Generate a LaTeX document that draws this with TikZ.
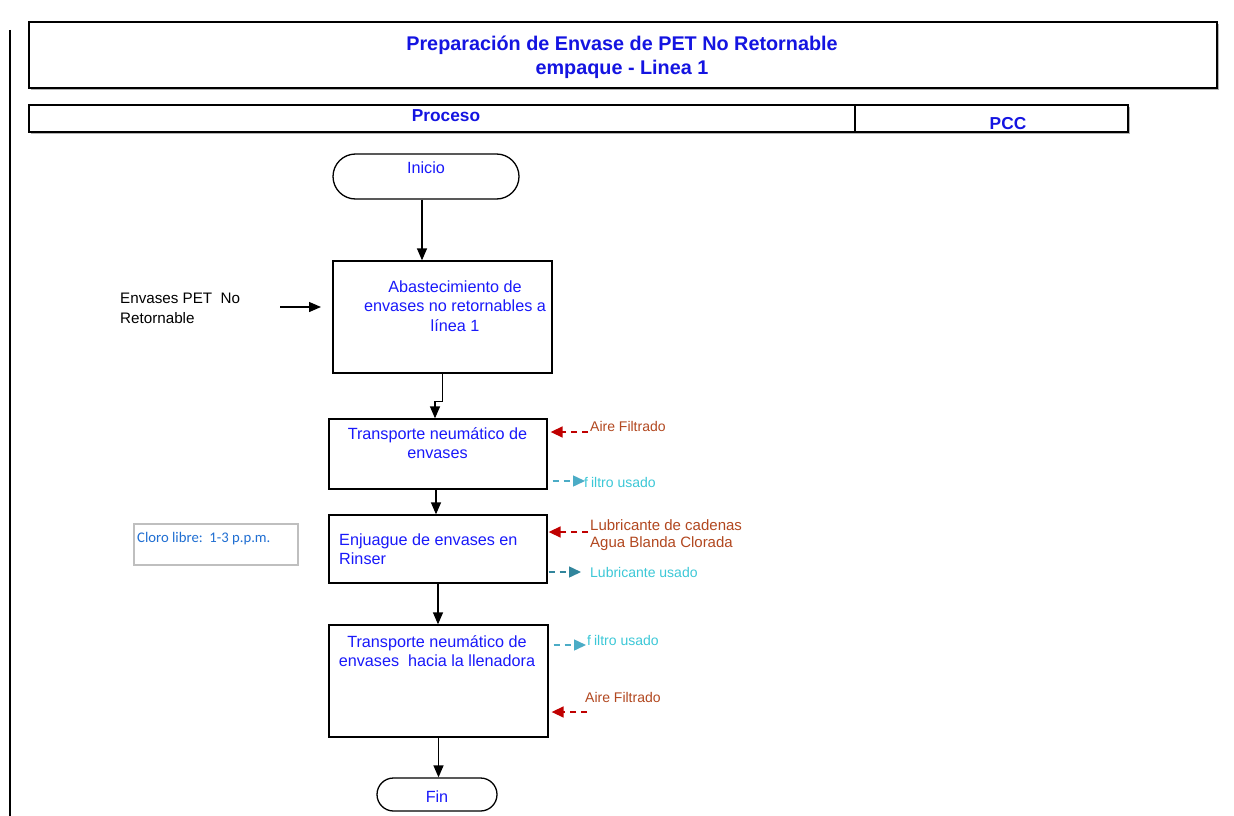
\documentclass[tikz,border=0pt]{standalone}
\usepackage{fontspec}
\setmainfont{Liberation Sans}
\newfontfamily\calib{Carlito}
\usetikzlibrary{arrows.meta,shapes.misc}
\definecolor{titleblue}{RGB}{20,20,225}
\definecolor{bodyblue}{RGB}{25,25,250}
\definecolor{lblbrown}{RGB}{178,72,32}
\definecolor{arrred}{RGB}{192,0,0}
\definecolor{lblcyan}{RGB}{60,200,215}
\definecolor{arrcyan}{RGB}{75,172,198}
\definecolor{arrteal}{RGB}{49,133,156}
\definecolor{clorotxt}{RGB}{31,110,210}
\begin{document}
\begin{tikzpicture}[x=1pt,y=-1pt,
  procbox/.style={draw=black,line width=1.3pt,rectangle,inner sep=0pt},
  termbox/.style={draw=black,line width=1.3pt,rounded rectangle,inner sep=0pt},
  btext/.style={text=bodyblue,font=\fontsize{16.2}{19.5}\selectfont,align=center,inner sep=0pt},
  ltext/.style={text=lblbrown,font=\fontsize{14}{17}\selectfont,align=left,anchor=west,inner sep=0pt},
  ctext/.style={text=lblcyan,font=\fontsize{14}{17}\selectfont,align=left,anchor=west,inner sep=0pt},
  arr/.style={draw=black,line width=1.3pt,-{Triangle[length=12pt,width=10pt]}},
  inarr/.style={draw=arrred,line width=1.5pt,dash pattern=on 6pt off 5pt,-{Triangle[length=12pt,width=11pt]}},
  outarr/.style={draw=arrcyan,line width=1.5pt,dash pattern=on 6pt off 5pt,-{Triangle[length=12pt,width=11pt]}},
  outarrb/.style={draw=arrteal,line width=1.5pt,dash pattern=on 6pt off 5pt,-{Triangle[length=12pt,width=11pt]}}
]
\useasboundingbox (0,0) rectangle (1234,816);
\fill[white] (0,0) rectangle (1234,816);

% left margin line
\draw[line width=1.3pt] (10,30) -- (10,816);

% title box
\draw[gray!60,line width=1.5pt] (31,89.5) -- (1218.5,89.5) -- (1218.5,24);
\node[procbox,minimum width=1188pt,minimum height=66pt] (title) at (623,55) {};
\node[text=titleblue,font=\bfseries\fontsize{19.8}{24}\selectfont,align=center,inner sep=0pt] (titleT) at (622,57.5) {Preparación de Envase de PET No Retornable\\empaque - Linea 1};

% header row
\draw[gray!60,line width=1.5pt] (31,133.5) -- (1129.5,133.5) -- (1129.5,107);
\node[procbox,minimum width=826pt,minimum height=27pt] (proc) at (442,118.5) {};
\node[procbox,minimum width=273pt,minimum height=27pt] (pcc) at (991.5,118.5) {};
\node[text=titleblue,font=\bfseries\fontsize{17.3}{20}\selectfont,inner sep=0pt] (procT) at (446,116) {Proceso};
\node[text=titleblue,font=\bfseries\fontsize{17.3}{20}\selectfont,inner sep=0pt] (pccT) at (1008,124) {PCC};

% Inicio
\node[termbox,minimum width=186pt,minimum height=45pt] (ini) at (426,176.5) {};
\node[btext] (iniT) at (426,168) {Inicio};

% Box 1
\node[procbox,minimum width=219pt,minimum height=112pt] (b1) at (442.5,317) {};
\node[btext] (b1T) at (455,306) {Abastecimiento de\\envases no retornables a\\línea 1};

% Box 2
\node[procbox,minimum width=218pt,minimum height=70pt] (b2) at (438,454) {};
\node[btext] (b2T) at (437.5,443) {Transporte neumático de\\envases};

% Box 3
\node[procbox,minimum width=218pt,minimum height=68pt] (b3) at (438,549) {};
\node[btext,align=left,anchor=west] (b3T) at (339,549) {Enjuague de envases en\\Rinser};

% Box 4
\node[procbox,minimum width=219pt,minimum height=112pt] (b4) at (438.5,681) {};
\node[btext] (b4T) at (437,651) {Transporte neumático de\\envases\ \ hacia la llenadora};

% Fin
\node[termbox,minimum width=120pt,minimum height=33pt] (fin) at (437,794.5) {};
\node[btext] (finT) at (437,797) {Fin};

% main connectors
\draw[arr] ([xshift=-4pt]ini.south) -- ([xshift=-4pt]ini.south |- b1.north);
\draw[arr] (b1.south) -- ++(0,28) -| ([xshift=-3pt]b2.north);
\draw[arr] ([xshift=-2pt]b2.south) -- ([xshift=-2pt]b2.south |- b3.north);
\draw[arr] (b3.south) -- (b3.south |- b4.north);
\draw[arr] (b4.south) -- (b4.south |- fin.north);

% input Envases PET
\node[text=black,font=\fontsize{15.2}{20}\selectfont,align=left,anchor=west,inner sep=0pt] (envT) at (120,308) {Envases PET\ \ No\\Retornable};
\coordinate (envS) at (280,307);
\coordinate (envE) at (321,307);
\draw[arr] (envS) -- (envE);

% Cloro libre box
\node[draw=gray!50,line width=1.5pt,minimum width=164pt,minimum height=41pt,inner sep=0pt] (cloro) at (216,544.5) {};
\node[text=clorotxt,font=\calib\fontsize{14.7}{17}\selectfont,anchor=west,inner sep=0pt] (cloroT) at (137,539) {Cloro libre:\ \ 1-3 p.p.m.};

% side flows box 2
\coordinate (a1s) at (588,432);
\draw[inarr] (a1s) -- ([xshift=3pt]b2.east |- a1s);
\node[ltext] (a1T) at (590,426) {Aire Filtrado};
\coordinate (f1e) at (585,481);
\draw[outarr] ([xshift=5pt]b2.east |- f1e) -- (f1e);
\node[ctext] (f1T) at (584,482) {f\hspace{3pt}iltro usado};

% side flows box 3
\coordinate (lcs) at (588,532);
\draw[inarr] (lcs) -- ([xshift=1pt]b3.east |- lcs);
\node[ltext,font=\fontsize{15}{17}\selectfont] (lcT) at (590,535.5) {Lubricante de cadenas\\Agua Blanda Clorada};
\coordinate (lue) at (581,572);
\draw[outarrb] ([xshift=1pt]b3.east |- lue) -- (lue);
\node[ctext] (luT) at (590,572) {Lubricante usado};

% side flows box 4
\coordinate (f2e) at (586,645);
\draw[outarr] ([xshift=5pt]b4.east |- f2e) -- (f2e);
\node[ctext] (f2T) at (587,640) {f\hspace{3pt}iltro usado};
\coordinate (a2s) at (587,712);
\draw[inarr] (a2s) -- ([xshift=3pt]b4.east |- a2s);
\node[ltext] (a2T) at (585,697) {Aire Filtrado};
\end{tikzpicture}
\end{document}
